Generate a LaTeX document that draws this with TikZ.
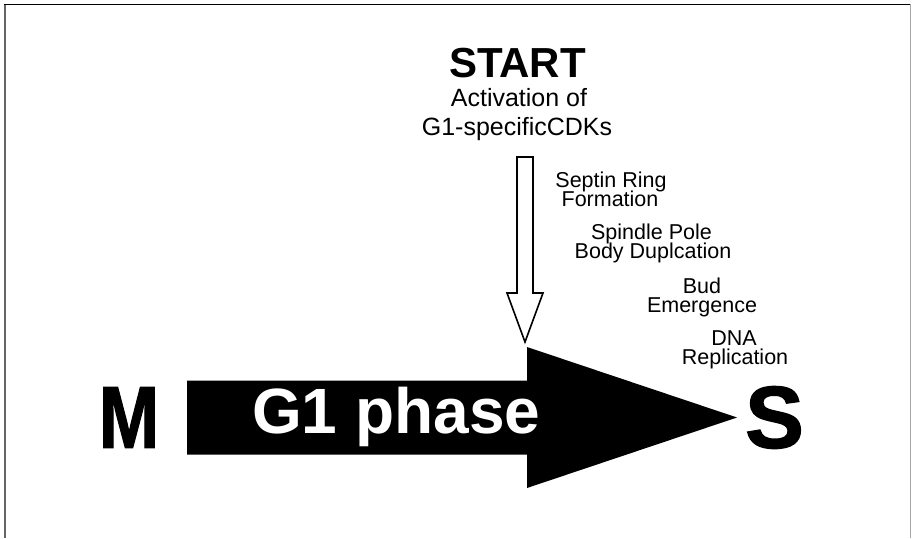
\documentclass[tikz,border=0pt]{standalone}
\usepackage{fontspec}
\setmainfont{Liberation Sans}
\newfontfamily\heavyfont[FakeBold=1.5]{Liberation Sans Bold}
\begin{document}
\begin{tikzpicture}[x=1pt,y=-1pt,
  bigletter/.style={font=\heavyfont\fontsize{88}{88}\selectfont, inner sep=0pt, outer sep=0pt},
  phasetext/.style={font=\bfseries\fontsize{64}{64}\selectfont, inner sep=0pt, text=white, anchor=base west},
  starttext/.style={font=\bfseries\fontsize{42}{42}\selectfont, inner sep=0pt, anchor=base},
  toplbl/.style={font=\fontsize{25}{25}\selectfont, inner sep=0pt, anchor=base},
  lbl/.style={font=\fontsize{21.5}{21.5}\selectfont, inner sep=0pt, anchor=base},
  hollow/.style={draw=black, fill=white, line width=1.6pt, line join=miter},
  solidarrow/.style={fill=black}
]
\useasboundingbox (0,0) rectangle (912,538);
% frame
\draw[black!60, line width=1.6pt] (5,538) -- (5,4.5);
\draw[black, line width=1.2pt] (4.2,4.5) -- (911,4.5);
\draw[black!35, line width=1.2pt] (910.6,4) -- (910.6,538);

% big G1 arrow
\coordinate (bodyTL) at (187,380.5);
\coordinate (bodyBL) at (187,454.5);
\coordinate (headTop) at (527,347);
\coordinate (headBot) at (527,488);
\coordinate (tip) at (737,417.5);
\fill[solidarrow] (bodyTL) -- (527,380.5) -- (headTop) -- (tip) -- (headBot) -- (527,454.5) -- (bodyBL) -- cycle;
\node[phasetext] (phase) at (252,433) {G1 phase};

% M and S
\node[bigletter] (M) at (129,417.5) {\scalebox{0.82}[1]{M}};
\node[bigletter] (S) at (774.5,417.5) {S};

% START texts
\node[starttext] (start) at (517.5,77) {START};
\node[toplbl] (act1) at (519,106) {Activation of};
\node[toplbl] (act2) at (517,135) {G1-specificCDKs};

% hollow arrow
\coordinate (hatip) at (525,342);
\draw[hollow] (517,157) -- (533,157) -- (533,293) -- (543,293) -- (hatip) -- (507,293) -- (517,293) -- cycle;

% event labels
\node[lbl] (sep1) at (611,187) {Septin Ring};
\node[lbl] (sep2) at (610,206.5) {Formation};
\node[lbl] (spb1) at (651.5,239) {Spindle Pole};
\node[lbl] (spb2) at (653,258.5) {Body Duplcation};
\node[lbl] (bud1) at (702,293) {Bud};
\node[lbl] (bud2) at (702,312.5) {Emergence};
\node[lbl] (dna1) at (734,345) {DNA};
\node[lbl] (dna2) at (735,364.5) {Replication};
\end{tikzpicture}
\end{document}
